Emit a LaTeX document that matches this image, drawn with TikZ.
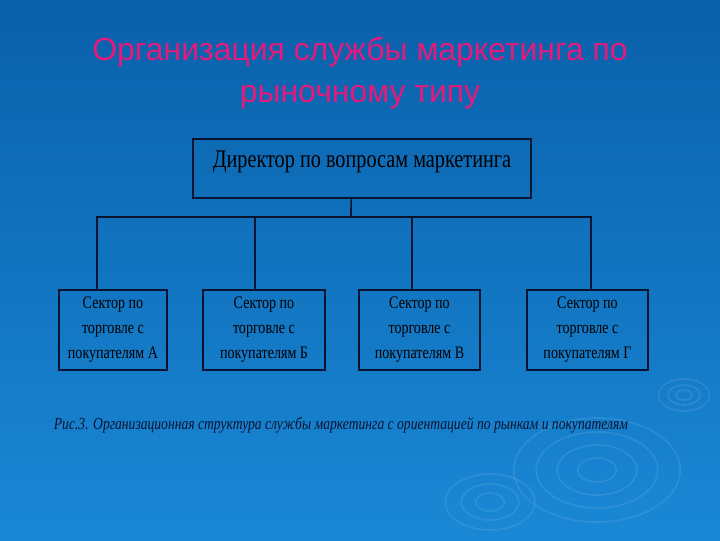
\documentclass[tikz,border=0pt]{standalone}
\usepackage{fontspec}
\setmainfont{Liberation Serif}
\newfontfamily\titlefont{Liberation Sans}
\newfontfamily\boxfont[FakeStretch=0.8]{Liberation Serif}
\usetikzlibrary{calc,positioning}
\definecolor{bgtop}{RGB}{10,96,170}
\definecolor{bgbot}{RGB}{26,136,214}
\definecolor{titlepink}{RGB}{228,26,124}
\definecolor{linenavy}{RGB}{8,20,48}

\begin{document}
\begin{tikzpicture}[x=0.025cm,y=-0.025cm,
	sector/.style={draw=linenavy,line width=1.3pt,minimum height=2cm,inner sep=0pt,
		align=center,font=\boxfont\fontsize{12.5}{17.8}\selectfont},
	link/.style={draw=linenavy,line width=1.1pt},
	ripple/.style={white,opacity=0.09,line width=1.2pt}]
	\shade[top color=bgtop,bottom color=bgbot] (0,0) rectangle (720,540);
	\useasboundingbox (0,0) rectangle (720,540);
	\foreach \r in {5,10,16} \draw[ripple] (684,395) ellipse ({\r*1.6} and \r);
	\foreach \r in {12,25,38,52} \draw[ripple] (597,470) ellipse ({\r*1.6} and \r);
	\foreach \r in {9,18,28} \draw[ripple] (490,502) ellipse ({\r*1.6} and \r);
	\node[color=titlepink,align=center,font=\titlefont\fontsize{22.7}{29.5}\selectfont]
		(title) at (360,73) {Организация службы маркетинга по\\рыночному типу};
	\node[draw=linenavy,line width=1.3pt,minimum width=8.45cm,inner sep=0pt,
		text height=20pt,text depth=22pt,anchor=north,
		font=\boxfont\fontsize{18}{20}\selectfont] (dir) at (362,138) {Директор по вопросам маркетинга};
	\node[sector,minimum width=2.7cm] (s1) at (113,330) {Сектор по\\торговле с\\покупателям А};
	\node[sector,minimum width=3.05cm] (s2) at (264,330) {Сектор по\\торговле с\\покупателям Б};
	\node[sector,minimum width=3.02cm] (s3) at (419.5,330) {Сектор по\\торговле с\\покупателям В};
	\node[sector,minimum width=3.02cm] (s4) at (587.5,330) {Сектор по\\торговле с\\покупателям Г};
	\coordinate (bus) at (351,217);
	\draw[link] ([xshift=-7.8pt]dir.south) -- (bus);
	\draw[link] (bus) -| ([xshift=-11.4pt]s1.north);
	\draw[link] (bus) -| ([xshift=-6.4pt]s2.north);
	\draw[link] (bus) -| ([xshift=-5.3pt]s3.north);
	\draw[link] (bus) -| ([xshift=2.5pt]s4.north);
	\node[text=linenavy,font=\boxfont\itshape\fontsize{12.1}{14}\selectfont] (caption) at (341,425)
		{Рис.3. Организационная структура службы маркетинга с ориентацией по рынкам и покупателям};
\end{tikzpicture}
\end{document}
